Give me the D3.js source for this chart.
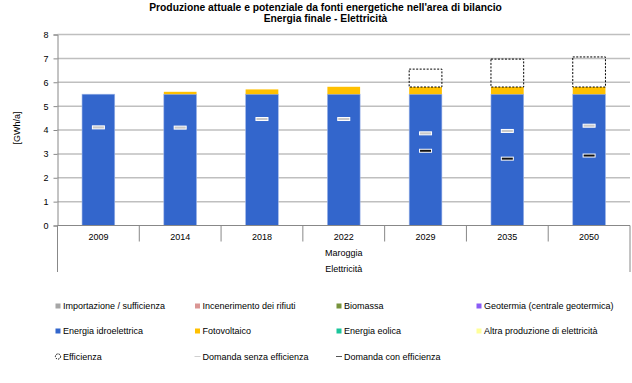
<!DOCTYPE html>
<html><head><meta charset="utf-8">
<script src="https://cdn.jsdelivr.net/npm/d3@7"></script>
<style>body{margin:0;background:#fff;} svg{display:block;font-family:"Liberation Sans",Arial,sans-serif;}</style>
</head><body><svg id="c" width="632" height="383"></svg>
<script>
const years = ["2009","2014","2018","2022","2029","2035","2050"];
const hydro = [5.5,5.5,5.5,5.5,5.5,5.5,5.5];
const solar = [0,0.1,0.2,0.31,0.3,0.3,0.3];
const efficiency = [0,0,0,0,0.75,1.17,1.26];
const demandNoEff = [4.11,4.1,4.46,4.46,3.86,3.96,4.18];
const demandEff = [null,null,null,null,3.13,2.8,2.93];
const yTicks = [0,1,2,3,4,5,6,7,8];
const titleLines = ["Produzione attuale e potenziale da fonti energetiche nell'area di bilancio","Energia finale - Elettricità"];
const legendItems = [
  {label:"Importazione / sufficienza", color:"#A6A6A6", type:"sq"},
  {label:"Incenerimento dei rifiuti", color:"#DA9694", type:"sq"},
  {label:"Biomassa", color:"#77933C", type:"sq"},
  {label:"Geotermia (centrale geotermica)", color:"#8A5CF5", type:"sq"},
  {label:"Energia idroelettrica", color:"#3366CC", type:"sq"},
  {label:"Fotovoltaico", color:"#FFC000", type:"sq"},
  {label:"Energia eolica", color:"#1BC59B", type:"sq"},
  {label:"Altra produzione di elettricità", color:"#FFFF99", type:"sq"},
  {label:"Efficienza", color:"#000", type:"circ"},
  {label:"Domanda senza efficienza", color:"#D0D0D0", type:"line"},
  {label:"Domanda con efficienza", color:"#555", type:"line"}
];

const svg = d3.select("#c");
const L=57.5, R=630, T=34.5, B=225.5;
const FS=9;
const x = d3.scaleBand().domain(years).range([L,R]).padding(0);
const y = d3.scaleLinear().domain([0,8]).range([B,T]);
const bw = x.bandwidth()*0.4;
const cx = d => x(d)+x.bandwidth()/2;

// title
svg.append("g").selectAll("text").data(titleLines).join("text")
  .attr("x",325.5).attr("y",(d,i)=>11+i*10.5).attr("text-anchor","middle")
  .attr("font-size",10.3).attr("font-weight","bold").attr("fill","#000").text(d=>d);

// gridlines
svg.append("g").selectAll("line").data(yTicks.filter(t=>t>0)).join("line")
  .attr("x1",L).attr("x2",R).attr("y1",d=>y(d)).attr("y2",d=>y(d))
  .attr("stroke","#BFBFBF").attr("stroke-width",1.5);

// y axis
const ya = svg.append("g").attr("transform",`translate(${L},0)`)
  .call(d3.axisLeft(y).tickValues(yTicks).tickSize(4).tickPadding(5).tickFormat(d3.format("d")));
ya.select(".domain").attr("stroke","#888");
ya.selectAll(".tick line").attr("stroke","#888");
ya.selectAll("text").attr("font-size",FS).attr("fill","#000").attr("font-family","Liberation Sans, Arial, sans-serif");
svg.append("text").attr("transform",`translate(20,${(T+B)/2-2}) rotate(-90)`)
  .attr("text-anchor","middle").attr("font-size",FS).text("[GWh/a]");

// bars
const stacks = years.map((yr,i)=>({yr, h:hydro[i], s:solar[i], e:efficiency[i]}));
const g = svg.append("g");
g.selectAll("rect.h").data(stacks).join("rect").attr("class","h")
  .attr("x",d=>cx(d.yr)-bw/2).attr("width",bw)
  .attr("y",d=>y(d.h)).attr("height",d=>y(0)-y(d.h))
  .attr("fill","#3366CC").attr("stroke","#9FB6E8").attr("stroke-width",0.6);
g.selectAll("rect.s").data(stacks.filter(d=>d.s>0)).join("rect").attr("class","s")
  .attr("x",d=>cx(d.yr)-bw/2).attr("width",bw)
  .attr("y",d=>y(d.h+d.s)).attr("height",d=>y(d.h)-y(d.h+d.s))
  .attr("fill","#FFC000");
g.selectAll("rect.e").data(stacks.filter(d=>d.e>0)).join("rect").attr("class","e")
  .attr("x",d=>cx(d.yr)-bw/2).attr("width",bw)
  .attr("y",d=>y(d.h+d.s+d.e)).attr("height",d=>y(d.h+d.s)-y(d.h+d.s+d.e))
  .attr("fill","none").attr("stroke","#000").attr("stroke-width",1).attr("stroke-dasharray","2,1.5");

// demand markers
const mk = (vals, fill) => g.append("g").selectAll("rect")
  .data(years.map((yr,i)=>({yr,v:vals[i]})).filter(d=>d.v!=null)).join("rect")
  .attr("x",d=>cx(d.yr)-6).attr("width",12).attr("y",d=>y(d.v)-1.5).attr("height",3)
  .attr("fill",fill).attr("stroke","#fff").attr("stroke-width",1);
mk(demandNoEff,"#C8C8C8");
mk(demandEff,"#111");

// x axis (multi-level)
const xa = svg.append("g");
xa.append("line").attr("x1",L).attr("x2",R).attr("y1",B).attr("y2",B).attr("stroke","#888");
xa.selectAll("line.sep").data(years.slice(1)).join("line").attr("class","sep")
  .attr("x1",d=>x(d)).attr("x2",d=>x(d)).attr("y1",B).attr("y2",B+16).attr("stroke","#888");
xa.append("line").attr("x1",L).attr("x2",L).attr("y1",B).attr("y2",272).attr("stroke","#888");
xa.append("line").attr("x1",R).attr("x2",R).attr("y1",B).attr("y2",272).attr("stroke","#888");
xa.selectAll("text.yr").data(years).join("text").attr("class","yr")
  .attr("x",d=>cx(d)).attr("y",B+14).attr("text-anchor","middle").attr("font-size",FS).text(d=>d);
xa.append("text").attr("x",(L+R)/2).attr("y",B+30).attr("text-anchor","middle").attr("font-size",FS).text("Maroggia");
xa.append("text").attr("x",(L+R)/2).attr("y",B+46).attr("text-anchor","middle").attr("font-size",FS).text("Elettricità");

// legend
const colX=[58,197.5,339,479], rowY=[306,331,356.5];
const lg = svg.append("g").selectAll("g").data(legendItems).join("g")
  .attr("transform",(d,i)=>`translate(${colX[i%4]},${rowY[Math.floor(i/4)]})`);
lg.each(function(d){
  const s=d3.select(this);
  if(d.type==="sq") s.append("rect").attr("x",-2.5).attr("y",-2.5).attr("width",5).attr("height",5).attr("fill",d.color);
  else if(d.type==="circ") s.append("circle").attr("r",2.6).attr("fill","none").attr("stroke","#000").attr("stroke-width",1).attr("stroke-dasharray","1.5,1");
  else s.append("line").attr("x1",-3).attr("x2",3).attr("stroke",d.color).attr("stroke-width",1);
  s.append("text").attr("x",5).attr("y",3.2).attr("font-size",FS).attr("fill","#000").text(d.label);
});
</script></body></html>
